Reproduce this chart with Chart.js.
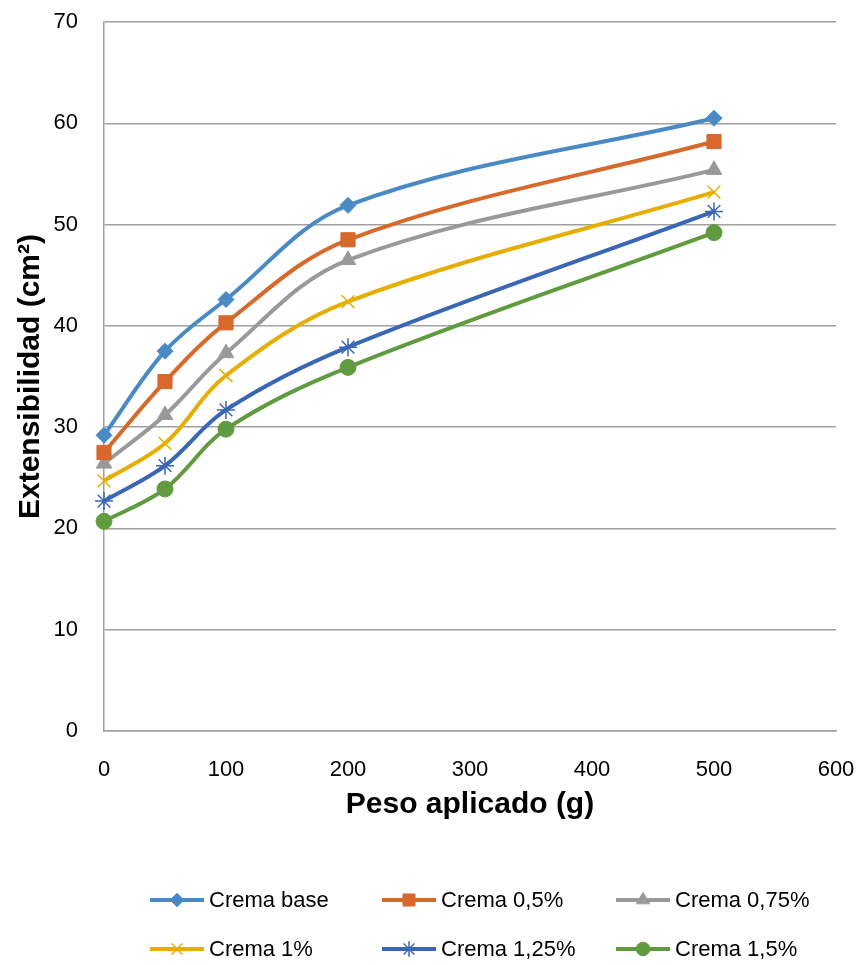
<!DOCTYPE html>
<html>
<head>
<meta charset="utf-8">
<script src="https://cdn.jsdelivr.net/npm/chart.js@4"></script>
<style>
  html, body { margin: 0; padding: 0; background: #fff; }
  #wrap { width: 860px; height: 965px; }
</style>
</head>
<body>
<div id="wrap"><canvas id="extChart" width="860" height="965"></canvas></div>
<script>
// Datos
const pesos = [0, 50, 100, 200, 500];
const cremaBase = [29.2, 37.5, 42.6, 51.9, 60.5];
const crema05 = [27.5, 34.5, 40.3, 48.5, 58.2];
const crema075 = [26.4, 31.2, 37.3, 46.5, 55.4];
const crema1 = [24.7, 28.4, 35.1, 42.4, 53.2];
const crema125 = [22.7, 26.2, 31.7, 37.9, 51.3];
const crema15 = [20.7, 23.9, 29.8, 35.9, 49.2];
const nombres = ['Crema base', 'Crema 0,5%', 'Crema 0,75%', 'Crema 1%', 'Crema 1,25%', 'Crema 1,5%'];

const toXY = arr => arr.map((v, i) => ({ x: pesos[i], y: v }));

const estilos = [
    { color: '#4a8ac4', point: 'rectRot', radius: 8, bw: 1 },
    { color: '#d6692b', point: 'rect', radius: 10, bw: 1 },
    { color: '#999999', point: 'triangle', radius: 9, bw: 1 },
    { color: '#e6ae00', point: 'crossRot', radius: 9, bw: 1.5 },
    { color: '#3a66b5', point: 'star', radius: 9, bw: 1.5 },
    { color: '#619b3f', point: 'circle', radius: 8, bw: 1 }
];

const series = [cremaBase, crema05, crema075, crema1, crema125, crema15];

const datasets = series.map((s, i) => ({
    label: nombres[i],
    data: toXY(s),
    borderColor: estilos[i].color,
    backgroundColor: estilos[i].color,
    borderWidth: 4,
    pointStyle: estilos[i].point,
    pointRadius: estilos[i].radius,
    pointHoverRadius: estilos[i].radius,
    pointBorderWidth: estilos[i].bw,
    pointBackgroundColor: estilos[i].color,
    pointBorderColor: estilos[i].color,
    tension: 0.35,
    clip: false
}));

// Leyenda dibujada a mano: 3 columnas, 2 filas
const legendPlugin = {
    id: 'legendaExcel',
    afterDraw(chart) {
        const ctx = chart.ctx;
        const cols = [150, 382, 616];
        const rows = [900, 949];
        ctx.save();
        chart.data.datasets.forEach((ds, i) => {
            const x = cols[i % 3];
            const y = rows[Math.floor(i / 3)];
            ctx.strokeStyle = ds.borderColor;
            ctx.lineWidth = 4;
            ctx.beginPath();
            ctx.moveTo(x, y);
            ctx.lineTo(x + 54, y);
            ctx.stroke();
            ctx.fillStyle = ds.pointBackgroundColor;
            ctx.strokeStyle = ds.pointBorderColor;
            ctx.lineWidth = ds.pointBorderWidth;
            Chart.helpers.drawPoint(ctx, {
                pointStyle: ds.pointStyle,
                radius: ds.pointRadius * 0.85,
                rotation: 0,
                borderWidth: ds.pointBorderWidth
            }, x + 27, y);
            ctx.fillStyle = '#000';
            ctx.font = '22px "Liberation Sans", Arial, sans-serif';
            ctx.textBaseline = 'middle';
            ctx.textAlign = 'left';
            ctx.fillText(ds.label, x + 59, y + 1);
        });
        ctx.restore();
    }
};

new Chart(document.getElementById('extChart'), {
    type: 'line',
    data: { datasets: datasets },
    plugins: [legendPlugin],
    options: {
        responsive: false,
        animation: false,
        layout: { padding: { top: 22, right: 24, bottom: 134, left: 0 } },
        plugins: {
            legend: { display: false },
            tooltip: { enabled: false }
        },
        scales: {
            x: {
                type: 'linear',
                min: 0,
                max: 600,
                ticks: {
                    stepSize: 100,
                    color: '#000',
                    padding: 26,
                    font: { family: '"Liberation Sans", Arial, sans-serif', size: 22 }
                },
                grid: { display: false, drawTicks: false },
                border: { display: true, color: '#a0a0a0', width: 1.5 },
                title: {
                    display: true,
                    text: 'Peso aplicado (g)',
                    color: '#000',
                    padding: { top: 0, bottom: 8 },
                    font: { family: '"Liberation Sans", Arial, sans-serif', size: 30, weight: 'bold' }
                },
                afterFit: scale => {
                    scale.height = 100;
                    scale.paddingLeft = 0;
                    scale.paddingRight = 0;
                }
            },
            y: {
                min: 0,
                max: 70,
                ticks: {
                    stepSize: 10,
                    color: '#000',
                    padding: 26,
                    font: { family: '"Liberation Sans", Arial, sans-serif', size: 22 }
                },
                grid: { color: '#a0a0a0', lineWidth: 1.5, drawTicks: false },
                border: { display: true, color: '#a0a0a0', width: 1.5 },
                title: {
                    display: true,
                    text: 'Extensibilidad (cm²)',
                    color: '#000',
                    padding: { top: 13, bottom: 0 },
                    font: { family: '"Liberation Sans", Arial, sans-serif', size: 30, weight: 'bold' }
                },
                afterFit: scale => {
                    scale.width = 104;
                    scale.paddingTop = 0;
                    scale.paddingBottom = 0;
                }
            }
        }
    }
});
</script>
</body>
</html>
